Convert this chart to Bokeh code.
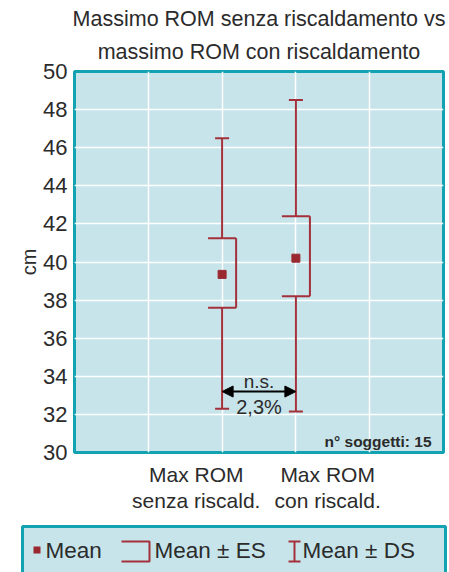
from bokeh.plotting import figure
from bokeh.layouts import column
from bokeh.models import Label, Arrow, NormalHead, FixedTicker, Range1d, Title
from bokeh.core.properties import value
from bokeh.embed import file_html
from bokeh.resources import INLINE

# ---- data ----
title_lines = ["Massimo ROM senza riscaldamento vs", "massimo ROM con riscaldamento"]
categories = ["Max ROM\nsenza riscald.", "Max ROM\ncon riscald."]
cat_x = [2, 3]
mean = [39.35, 40.2]
es_low = [37.6, 38.2]
es_high = [41.25, 42.4]
ds_low = [32.3, 32.15]
ds_high = [46.5, 48.5]
y_ticks = list(range(30, 52, 2))
sig_label = "n.s."
diff_label = "2,3%"
n_label = "n° soggetti: 15"
legend_labels = ["Mean", "Mean ± ES", "Mean ± DS"]

# ---- style ----
FONT = "Liberation Sans"
TXT = "#2b2b2b"
RED = "#a3303b"
BG = "#c6e4ea"
TEAL = "#12a2b2"

W = 449
H_MAIN = 522
H_LEG = 50
FL, FR, FT, FB = 74, 443, 71, 452

p = figure(width=W, height=H_MAIN, output_backend="svg", toolbar_location=None,
           x_range=Range1d(0, 5), y_range=Range1d(30, 50),
           min_border_left=FL, min_border_right=W - FR,
           min_border_top=FT, min_border_bottom=H_MAIN - FB)
p.background_fill_color = BG
p.border_fill_color = "white"
p.outline_line_color = TEAL
p.outline_line_width = 3

# two centred title lines (added bottom line first: later titles stack above)
for i, line in enumerate(reversed(title_lines)):
    p.add_layout(Title(text=line, align="center", text_font=FONT, text_font_size="21.5px",
                       text_font_style="normal", text_color=TXT,
                       standoff=(15 if i == 0 else 0)), "above")

p.xgrid.ticker = FixedTicker(ticks=[1, 2, 3, 4])
p.xgrid.grid_line_color = "white"
p.xgrid.grid_line_width = 1.5
p.ygrid.grid_line_color = "white"
p.ygrid.grid_line_width = 1.5

# category labels (placed left/right of their columns as in the original)
label_x = [cat_x[0] - 0.35, cat_x[1] + 0.43]
xa = p.xaxis[0]
xa.ticker = FixedTicker(ticks=label_x)
xa.major_label_overrides = {lx: c for lx, c in zip(label_x, categories)}
xa.axis_line_color = None
xa.major_tick_line_color = None
xa.minor_tick_line_color = None
xa.major_label_text_font = FONT
xa.major_label_text_font_size = "21px"
xa.major_label_text_color = TXT
xa.major_label_text_line_height = 1.15
xa.major_label_standoff = 4

ya = p.yaxis[0]
ya.ticker = FixedTicker(ticks=y_ticks)
ya.axis_line_color = None
ya.major_tick_line_color = None
ya.minor_tick_line_color = None
ya.major_label_text_font = FONT
ya.major_label_text_font_size = "22px"
ya.major_label_text_color = TXT
ya.major_label_standoff = 1
ya.axis_label = "cm"
ya.axis_label_text_font = FONT
ya.axis_label_text_font_size = "20px"
ya.axis_label_text_font_style = "normal"
ya.axis_label_text_color = TXT
ya.axis_label_standoff = 0

# ---- data marks ----
es_w = 0.19
cap_w = 0.095
lw = 2
p.segment(x0=cat_x, y0=es_high, x1=cat_x, y1=ds_high, line_color=RED, line_width=lw)
p.segment(x0=cat_x, y0=ds_low, x1=cat_x, y1=es_low, line_color=RED, line_width=lw)
p.segment(x0=[x - cap_w for x in cat_x], y0=ds_high, x1=[x + cap_w for x in cat_x], y1=ds_high,
          line_color=RED, line_width=lw)
p.segment(x0=[x - cap_w for x in cat_x], y0=ds_low, x1=[x + cap_w for x in cat_x], y1=ds_low,
          line_color=RED, line_width=lw)
p.segment(x0=[x - es_w for x in cat_x], y0=es_high, x1=[x + es_w for x in cat_x], y1=es_high,
          line_color=RED, line_width=lw)
p.segment(x0=[x - es_w for x in cat_x], y0=es_low, x1=[x + es_w for x in cat_x], y1=es_low,
          line_color=RED, line_width=lw)
p.segment(x0=[x + es_w for x in cat_x], y0=es_low, x1=[x + es_w for x in cat_x], y1=es_high,
          line_color=RED, line_width=lw)
p.scatter(x=cat_x, y=mean, marker="square", size=8, fill_color="#9a2830", line_color="#9a2830")

# significance arrow
arrow_y = 33.2
p.add_layout(Arrow(start=NormalHead(size=11, fill_color="black", line_color="black"),
                   end=NormalHead(size=11, fill_color="black", line_color="black"),
                   x_start=cat_x[0], x_end=cat_x[1], y_start=arrow_y, y_end=arrow_y,
                   line_color="black", line_width=2))
mid = (cat_x[0] + cat_x[1]) / 2
p.add_layout(Label(x=mid, y=arrow_y, y_offset=10, text=sig_label, text_align="center",
                   text_baseline="middle", text_font=FONT, text_font_size="19px", text_color=TXT))
p.add_layout(Label(x=mid, y=arrow_y, y_offset=-15, text=diff_label, text_align="center",
                   text_baseline="middle", text_font=FONT, text_font_size="20px", text_color=TXT))

p.add_layout(Label(x=FR - 12 - FL, y=FB - 441, x_units="screen", y_units="screen", text=n_label,
                   text_align="right", text_baseline="middle", text_font=FONT,
                   text_font_size="15.5px", text_font_style="bold", text_color=TXT))

# ---- legend panel (pixel coordinates, y downward from its top) ----
TOP = H_MAIN
lg = figure(width=W, height=H_LEG, output_backend="svg", toolbar_location=None,
            x_range=Range1d(0, W), y_range=Range1d(H_LEG, 0),
            x_axis_location=None, y_axis_location=None,
            min_border=0, min_border_left=0, min_border_right=0,
            min_border_top=0, min_border_bottom=0)
for fig in (p, lg):
    try:
        fig.frame_align = False
    except Exception:
        pass
lg.outline_line_color = None
lg.grid.visible = False
lg.background_fill_color = "white"

lg.quad(left=[22], right=[445], top=[526 - TOP], bottom=[H_LEG + 10],
        fill_color=BG, line_color=TEAL, line_width=3)
lg.quad(left=[33], right=[40], top=[546 - TOP], bottom=[553 - TOP],
        fill_color="#9a2830", line_color=None)
lg.line(x=[121, 149, 149, 121], y=[541 - TOP, 541 - TOP, 561 - TOP, 561 - TOP],
        line_color=RED, line_width=2)
lg.multi_line(xs=[[288, 300], [294, 294], [288, 300]],
              ys=[[541 - TOP, 541 - TOP], [541 - TOP, 561 - TOP], [561 - TOP, 561 - TOP]],
              line_color=RED, line_width=2)
lg.text(x=[45, 154, 302], y=[550 - TOP] * 3, text=legend_labels,
        text_font=value(FONT), text_font_size="22.5px", text_color=TXT,
        text_align="left", text_baseline="middle")

layout = column(p, lg, spacing=0)
open("out.html", "w").write(file_html(layout, INLINE))
